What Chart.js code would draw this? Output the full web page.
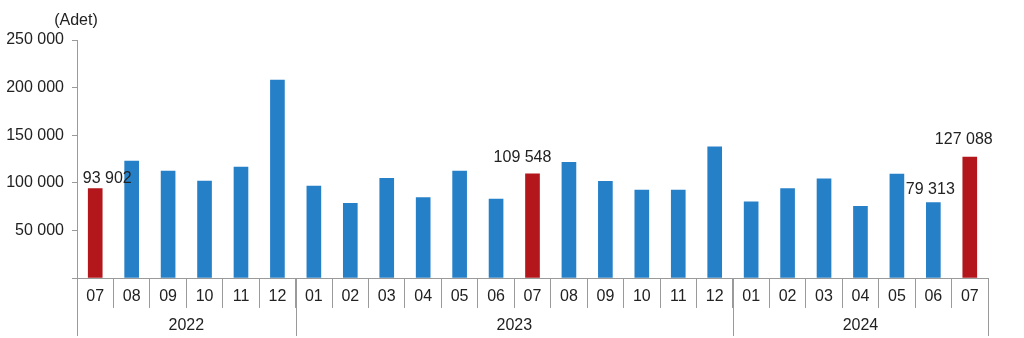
<!DOCTYPE html>
<html>
<head>
<meta charset="utf-8">
<script src="https://cdn.jsdelivr.net/npm/chart.js@4"></script>
<style>
  html, body { margin: 0; padding: 0; background: #fff; }
  #wrap { width: 1024px; height: 338px; position: relative; }
</style>
</head>
<body>
<div id="wrap"><canvas id="myChart"></canvas></div>
<script>
const months = ['07','08','09','10','11','12',
  '01','02','03','04','05','06','07','08','09','10','11','12',
  '01','02','03','04','05','06','07'];
const years = ['2022', '2023', '2024'];
const yearCounts = [6, 12, 7];
const values = [93902, 122900, 112400, 101900, 116600, 208000,
  96600, 78400, 104700, 84400, 112400, 83000, 109548, 121500, 101500, 92400, 92400, 137900,
  80100, 93800, 104300, 75300, 109200, 79313, 127088];
// bars that get a red colour and a value label
const highlighted = [0, 12, 24];
const labelled = [0, 12, 23, 24];

const red = '#b3171c';
const blue = '#2680c8';
const textColor = '#222';
const lineColor = '#9a9a9a';

// where each value label sits relative to its bar top
const labelShift = { 0: [12, -10], 12: [-10, -16], 23: [-3, -13], 24: [-6, -17] };

const fmt = v => String(v).replace(/\B(?=(\d{3})+(?!\d))/g, ' ');

const yearAxisPlugin = {
  id: 'yearAxis',
  afterDraw(chart) {
    const ctx = chart.ctx;
    const x = chart.scales.x;
    const bottom = chart.chartArea.bottom;
    const half = (x.getPixelForValue(1) - x.getPixelForValue(0)) / 2;
    ctx.save();
    ctx.strokeStyle = lineColor;
    ctx.lineWidth = 1;
    ctx.fillStyle = textColor;
    ctx.font = '16px "Liberation Sans", Arial, sans-serif';
    ctx.textAlign = 'center';
    ctx.textBaseline = 'middle';
    let start = 0;
    yearCounts.forEach((n, i) => {
      const left = x.getPixelForValue(start) - half;
      const right = x.getPixelForValue(start + n - 1) + half;
      ctx.beginPath();
      ctx.moveTo(Math.round(left) + 0.5, bottom);
      ctx.lineTo(Math.round(left) + 0.5, 336);
      if (i === yearCounts.length - 1) {
        ctx.moveTo(Math.round(right) + 0.5, bottom);
        ctx.lineTo(Math.round(right) + 0.5, 336);
      }
      ctx.stroke();
      ctx.fillText(years[i], (left + right) / 2, 326);
      start += n;
    });
    // value labels
    const meta = chart.getDatasetMeta(0);
    labelled.forEach(i => {
      const bar = meta.data[i];
      const [dx, dy] = labelShift[i];
      ctx.fillText(fmt(values[i]), bar.x + dx, bar.y + dy);
    });
    ctx.fillText('(Adet)', 76, 21);
    ctx.restore();
  }
};

new Chart(document.getElementById('myChart'), {
  type: 'bar',
  data: {
    labels: months,
    datasets: [{
      data: values,
      backgroundColor: values.map((v, i) => highlighted.includes(i) ? red : blue),
      borderWidth: 0,
      barThickness: 14
    }]
  },
  options: {
    responsive: true,
    maintainAspectRatio: false,
    animation: false,
    layout: { padding: { top: 40, right: 36, left: 0, bottom: 0 } },
    plugins: { legend: { display: false }, tooltip: { enabled: false } },
    scales: {
      x: {
        afterFit(scale) { scale.height = 60; },
        grid: {
          offset: true,
          drawOnChartArea: false,
          tickLength: 30,
          color: lineColor
        },
        border: { color: lineColor },
        ticks: {
          padding: -21,
          color: textColor,
          font: { family: '"Liberation Sans", Arial, sans-serif', size: 16 }
        }
      },
      y: {
        min: 0,
        max: 250000,
        afterFit(scale) { scale.width = 77; },
        grid: {
          drawOnChartArea: false,
          tickLength: 5,
          color: lineColor
        },
        border: { color: lineColor },
        ticks: {
          stepSize: 50000,
          padding: 8,
          color: textColor,
          font: { family: '"Liberation Sans", Arial, sans-serif', size: 16 },
          callback: v => v === 0 ? '' : fmt(v)
        }
      }
    }
  },
  plugins: [yearAxisPlugin]
});
</script>
</body>
</html>
